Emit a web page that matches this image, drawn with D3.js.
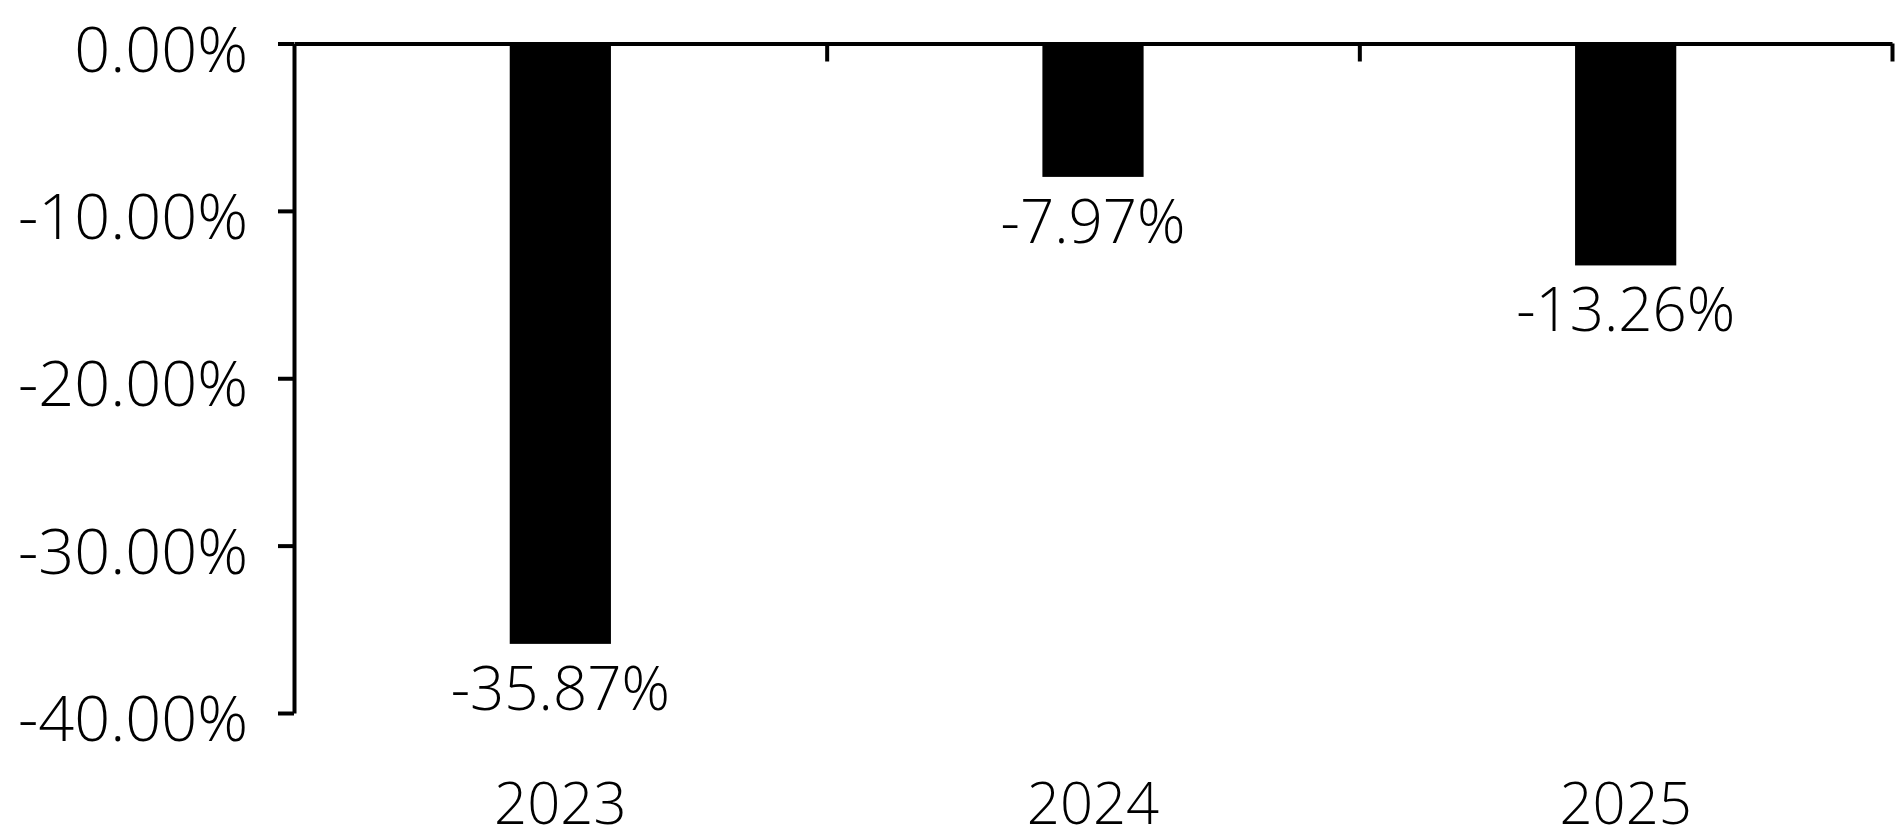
<!DOCTYPE html>
<html>
<head>
<meta charset="utf-8">
<script src="https://cdn.jsdelivr.net/npm/d3@7"></script>
<style>
  body { margin: 0; background: #fff; }
  svg { display: block; font-family: "Open Sans", sans-serif; font-weight: 300; }
</style>
</head>
<body>
<svg></svg>
<script>
var width = 1900;
var height = 833;

// data
var years = ['2023', '2024', '2025'];
var returns = [-35.87, -7.97, -13.26];
var yTicks = [0, -10, -20, -30, -40];

var mLeft = 294, mRight = 1892, mTop = 43.5, mBottom = 713;

var pct = d => d.toFixed(2) + '%';

var svg = d3.select('svg')
  .attr('width', width)
  .attr('height', height);

var x = d3.scaleBand()
  .domain(years)
  .range([mLeft, mRight])
  .paddingInner(0.81)
  .paddingOuter(0.405);

var xEdge = d3.scaleLinear()
  .domain([0, years.length])
  .range([mLeft, mRight]);

var y = d3.scaleLinear()
  .domain([-40, 0])
  .range([mBottom, mTop]);

// bars
svg.append('g')
  .selectAll('rect')
  .data(returns)
  .enter().append('rect')
    .attr('x', (d, i) => x(years[i]))
    .attr('width', x.bandwidth())
    .attr('y', y(0))
    .attr('height', d => y(d) - y(0))
    .attr('fill', '#000');

// y axis
var yAxis = svg.append('g')
  .attr('transform', 'translate(' + mLeft + ',0)')
  .call(d3.axisLeft(y)
    .tickValues(yTicks)
    .tickFormat(pct)
    .tickSize(16)
    .tickSizeOuter(0)
    .tickPadding(30));

yAxis.select('.domain').attr('stroke', '#000').attr('stroke-width', 4);
yAxis.selectAll('.tick line').attr('stroke', '#000').attr('stroke-width', 4);
yAxis.selectAll('.tick text')
  .attr('font-size', 63)
  .attr('font-family', '"Open Sans", sans-serif')
  .attr('font-weight', 300)
  .attr('fill', '#000')
  .attr('dy', '0.44em');

// x axis along zero line, ticks at category edges
var xAxis = svg.append('g')
  .attr('transform', 'translate(0,' + y(0) + ')')
  .call(d3.axisBottom(xEdge)
    .tickValues(d3.range(1, years.length + 1))
    .tickFormat('')
    .tickSize(18)
    .tickSizeOuter(0));

xAxis.select('.domain').attr('stroke', '#000').attr('stroke-width', 4);
xAxis.selectAll('.tick line').attr('stroke', '#000').attr('stroke-width', 4);

// category labels
svg.append('g')
  .selectAll('text')
  .data(years)
  .enter().append('text')
    .attr('x', d => x(d) + x.bandwidth() / 2)
    .attr('y', 824)
    .attr('text-anchor', 'middle')
    .attr('font-size', 58)
    .attr('fill', '#000')
    .text(d => d);

// value labels
svg.append('g')
  .selectAll('text')
  .data(returns)
  .enter().append('text')
    .attr('x', (d, i) => x(years[i]) + x.bandwidth() / 2)
    .attr('y', d => y(d) + 66)
    .attr('text-anchor', 'middle')
    .attr('font-size', 60)
    .attr('fill', '#000')
    .text(pct);
</script>
</body>
</html>
